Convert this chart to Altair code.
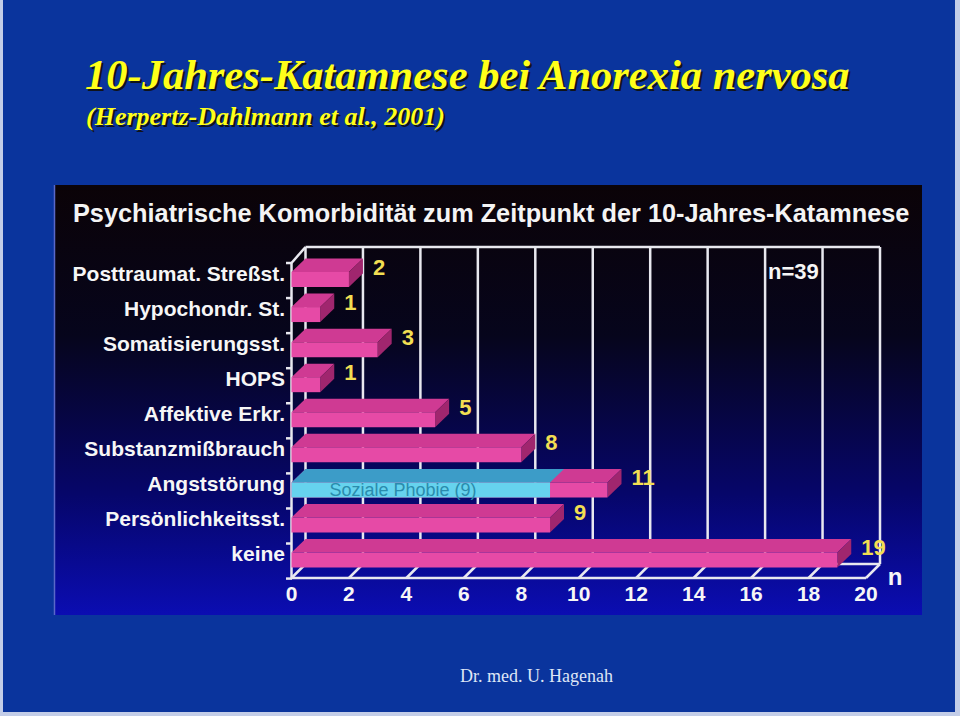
import altair as alt
import pandas as pd

# ---------------- data ----------------
categories = ["Posttraumat. Streßst.", "Hypochondr. St.", "Somatisierungsst.", "HOPS",
              "Affektive Erkr.", "Substanzmißbrauch", "Angststörung", "Persönlichkeitsst.", "keine"]
counts = [2, 1, 3, 1, 5, 8, 11, 9, 19]
overlay_category = "Angststörung"
overlay_label = "Soziale Phobie (9)"
overlay_value = 9
tick_values = [0, 2, 4, 6, 8, 10, 12, 14, 16, 18, 20]
sample_note = "n=39"
axis_title = "n"
slide_title = "10-Jahres-Katamnese bei Anorexia nervosa"
slide_subtitle = "(Herpertz-Dahlmann et al., 2001)"
panel_title = "Psychiatrische Komorbidität zum Zeitpunkt der 10-Jahres-Katamnese"
footer = "Dr. med. U. Hagenah"

# ---------------- geometry / style ----------------
X0, X20 = 291.5, 866.0          # pixel range of the front x axis
Y0, Y8 = 279.5, 560.0           # pixel centre of first / last front face
PPX = (X20 - X0) / 20
PPY = (Y8 - Y0) / 8
H = 7.5 / PPY                   # half height of a front face (row units)
DX = 14.0 / PPX                 # 3D depth offset in x (value units)
DY = 13.5 / PPY                 # 3D depth offset in y (row units)

def rowpx(p):
    return (p - Y0) / PPY

FRONT = "#e64aa6"
TOP = "#cf3a93"
SIDE = "#a0266e"
TEAL_TOP = "#3c9cc8"
CYAN = "#66d3ee"
LINE = "#e8e8ef"
YELLOW = "#f2de52"
SANS = "Liberation Sans"
SERIF = "Liberation Serif"

xs = alt.Scale(domain=[0, 20], range=[X0, X20], nice=False, zero=False)
ys = alt.Scale(domain=[0, 8], range=[Y0, Y8], nice=False, zero=False)

def ax(f):
    return alt.X(f, type="quantitative", scale=xs, axis=None)

def ay(f):
    return alt.Y(f, type="quantitative", scale=ys, axis=None, stack=None)

# ---------------- tables built from the arrays ----------------
rows = pd.DataFrame({"cat": categories, "value": counts, "row": list(range(len(categories)))})
rows["zero"] = 0
rows["yt"] = rows["row"] - H
rows["yb"] = rows["row"] + H

top_pts, side_pts = [], []
for r, v in enumerate(counts):
    ft = r - H
    top_pts += [dict(id=r, x=0, yu=ft, yl=ft), dict(id=r, x=DX, yu=ft - DY, yl=ft),
                dict(id=r, x=v, yu=ft - DY, yl=ft), dict(id=r, x=v + DX, yu=ft - DY, yl=ft - DY)]
    side_pts += [dict(id=r, x=v, yu=r - H, yl=r + H),
                 dict(id=r, x=v + DX, yu=r - H - DY, yl=r + H - DY)]
top_df = pd.DataFrame(top_pts)
side_df = pd.DataFrame(side_pts)

orow = categories.index(overlay_category)
oft = orow - H
otop_df = pd.DataFrame([dict(id=0, x=0, yu=oft, yl=oft), dict(id=0, x=DX, yu=oft - DY, yl=oft),
                        dict(id=0, x=overlay_value, yu=oft - DY, yl=oft),
                        dict(id=0, x=overlay_value + DX, yu=oft - DY, yl=oft - DY)])
ofront_df = pd.DataFrame([dict(zero=0, value=overlay_value, row=orow, yt=orow - H, yb=orow + H,
                               label=overlay_label)])

ticks = pd.DataFrame({"t": tick_values})
ticks["tb"] = ticks["t"] + DX

segs = pd.DataFrame([
    dict(x=DX, x2=20 + DX, y=rowpx(247), y2=rowpx(247)),      # back wall top edge
    dict(x=0, x2=DX, y=rowpx(263), y2=rowpx(247)),            # left wall top diagonal
    dict(x=0, x2=0, y=rowpx(263), y2=rowpx(578)),             # front y axis line
    dict(x=0, x2=20, y=rowpx(578), y2=rowpx(578)),            # front x axis line
    dict(x=DX, x2=20 + DX, y=rowpx(564), y2=rowpx(564)),      # back floor line
])
bounds = pd.DataFrame({"b": [i - 0.47 for i in range(len(categories) + 1)]})

one = pd.DataFrame({"a": [0]})

# ---------------- layers ----------------
slide = alt.Chart(one).mark_rect(color="#0a349d").encode(
    x=alt.value(3), x2=alt.value(955), y=alt.value(-2), y2=alt.value(712))

grad = alt.Gradient(gradient="linear", x1=0, x2=0, y1=0, y2=1, stops=[
    alt.GradientStop(color="#0b0307", offset=0),
    alt.GradientStop(color="#06051c", offset=0.35),
    alt.GradientStop(color="#06066a", offset=0.72),
    alt.GradientStop(color="#0b0db2", offset=1)])
panel = alt.Chart(one).mark_rect(fill=grad).encode(
    x=alt.value(54), x2=alt.value(922), y=alt.value(185), y2=alt.value(615))
panel_edge = alt.Chart(one).mark_rule(color="#5a68c8", strokeWidth=1.5).encode(
    x=alt.value(54.5), y=alt.value(185), y2=alt.value(615))

def title_layer(text, x, y, size, color, dx=0, dy=0):
    return alt.Chart(one).mark_text(text=text, align="left", baseline="alphabetic", font=SERIF,
                                    fontStyle="italic", fontWeight="bold", fontSize=size,
                                    color=color, dx=dx, dy=dy).encode(
        x=alt.value(x), y=alt.value(y))

t_shadow = title_layer(slide_title, 85, 89, 42.5, "#10131a", 2, 2)
t_main = title_layer(slide_title, 85, 89, 42.5, "#ffff1a")
s_shadow = title_layer(slide_subtitle, 86, 125, 26, "#10131a", 2, 2)
s_main = title_layer(slide_subtitle, 86, 125, 26, "#ffff1a")

ptitle = alt.Chart(one).mark_text(text=panel_title, align="left", baseline="middle", font=SANS,
                                  fontWeight="bold", fontSize=25.3, color="#f4f4f4").encode(
    x=alt.value(73), y=alt.value(214))

grid = alt.Chart(ticks).mark_rule(color=LINE, strokeWidth=2.5).encode(
    x=ax("tb"), y=alt.value(247), y2=alt.value(564))
floor = alt.Chart(ticks).mark_rule(color=LINE, strokeWidth=2.5).encode(
    x=ax("t"), x2="tb:Q", y=alt.value(578), y2=alt.value(564))
frame = alt.Chart(segs).mark_rule(color=LINE, strokeWidth=2.5).encode(
    x=ax("x"), x2="x2:Q", y=ay("y"), y2="y2:Q")
yticks = alt.Chart(bounds).mark_rule(color=LINE, strokeWidth=2.5).encode(
    x=alt.value(286), x2=alt.value(292), y=ay("b"))

top = alt.Chart(top_df).mark_area(orient="vertical", color=TOP, interpolate="linear").encode(
    x=ax("x"), y=ay("yu"), y2="yl:Q", detail="id:N")
side = alt.Chart(side_df).mark_area(orient="vertical", color=SIDE, interpolate="linear").encode(
    x=ax("x"), y=ay("yu"), y2="yl:Q", detail="id:N")
front = alt.Chart(rows).mark_rect(color=FRONT).encode(
    x=ax("zero"), x2="value:Q", y=ay("yt"), y2="yb:Q")

otop = alt.Chart(otop_df).mark_area(orient="vertical", color=TEAL_TOP, interpolate="linear").encode(
    x=ax("x"), y=ay("yu"), y2="yl:Q", detail="id:N")
ofront = alt.Chart(ofront_df).mark_rect(color=CYAN).encode(
    x=ax("zero"), x2="value:Q", y=ay("yt"), y2="yb:Q")
olabel = alt.Chart(ofront_df).mark_text(align="left", baseline="middle", font=SANS, fontSize=18,
                                        color="#2a8cad", dx=38, dy=1).encode(
    x=ax("zero"), y=ay("row"), text="label:N")

catlab = alt.Chart(rows).mark_text(align="right", baseline="middle", font=SANS, fontWeight="bold",
                                   fontSize=21, color="#f6f6f6", dy=-5).encode(
    x=alt.value(285), y=ay("row"), text="cat:N")
vallab = alt.Chart(rows).mark_text(align="left", baseline="middle", font=SANS, fontWeight="bold",
                                   fontSize=22, color=YELLOW, dx=24, dy=-12).encode(
    x=ax("value"), y=ay("row"), text="value:Q")
ticklab = alt.Chart(ticks).mark_text(align="center", baseline="middle", font=SANS, fontWeight="bold",
                                     fontSize=21, color="#f6f6f6").encode(
    x=ax("t"), y=alt.value(595), text="t:Q")
ntitle = alt.Chart(one).mark_text(text=axis_title, align="center", baseline="middle", font=SANS,
                                  fontWeight="bold", fontSize=24, color="#f6f6f6").encode(
    x=alt.value(895), y=alt.value(578))
nnote = alt.Chart(one).mark_text(text=sample_note, align="left", baseline="middle", font=SANS,
                                 fontWeight="bold", fontSize=22, color="#f6f6f6").encode(
    x=alt.value(768), y=alt.value(272))
foot = alt.Chart(one).mark_text(text=footer, align="center", baseline="middle", font=SERIF,
                                fontSize=18, color="#dfe6f6").encode(
    x=alt.value(536.5), y=alt.value(677))

chart = alt.layer(
    slide, panel, panel_edge, t_shadow, t_main, s_shadow, s_main, ptitle,
    grid, floor, frame, yticks,
    top, side, front, otop, ofront, olabel,
    catlab, vallab, ticklab, ntitle, nnote, foot,
).properties(
    width=960, height=716, padding=0, autosize=alt.AutoSizeParams(type="none"),
    background="#c3cde8",
).configure_view(strokeWidth=0, stroke=None)

chart.save("out.html", embed_options={"renderer": "svg", "actions": False})
